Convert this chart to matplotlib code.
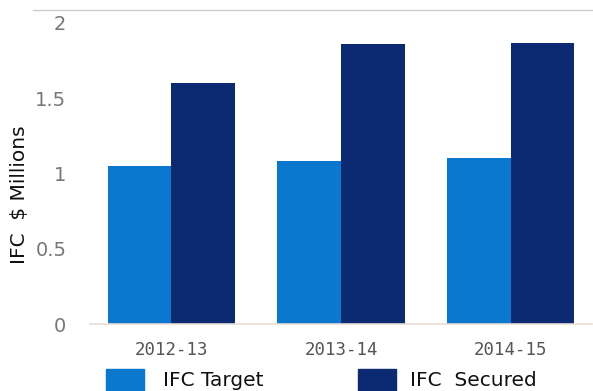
import matplotlib
matplotlib.use("Agg")
import matplotlib.pyplot as plt
from matplotlib.patches import Rectangle
from matplotlib.lines import Line2D
import numpy as np

categories = ["2012-13", "2013-14", "2014-15"]
target = [1.05, 1.08, 1.10]
secured = [1.60, 1.86, 1.87]
yticks = [0, 0.5, 1, 1.5, 2]
ytick_labels = ["0", "0.5", "1", "1.5", "2"]
series_names = ["IFC Target", "IFC  Secured"]
colors = ["#0a78cf", "#0b2a72"]

W, H = 593, 391
fig = plt.figure(figsize=(W / 100, H / 100), dpi=100)
ax = fig.add_axes([90 / W, 1 - 324 / H, (592 - 90) / W, (324 - 10) / H])

x = np.arange(len(categories))
bw = 0.375
ax.bar(x - bw / 2, target, width=bw, color=colors[0], edgecolor="none")
ax.bar(x + bw / 2, secured, width=bw, color=colors[1], edgecolor="none")

ax.set_xlim(-0.48, 2.48)
ax.set_ylim(0, 2.086)
ax.set_yticks(yticks)
ax.set_yticklabels(ytick_labels)
ax.set_xticks(x)
ax.set_xticklabels(categories)
for s in ["top", "right", "left"]:
    ax.spines[s].set_visible(False)
ax.spines["bottom"].set_color("#e8ddd5")
ax.spines["bottom"].set_linewidth(1.2)
ax.tick_params(axis="both", length=0, colors="#777777")
ax.tick_params(axis="y", labelsize=14, pad=17)
ax.tick_params(axis="x", labelsize=12.5, pad=12)
for lbl in ax.get_xticklabels():
    lbl.set_family("DejaVu Sans Mono")
    lbl.set_color("#555555")
ax.set_ylabel("IFC  $ Millions", fontsize=14.5, color="#111111")
ax.yaxis.set_label_coords(-(90 - 29) / (592 - 90), (324 - 195) / (324 - 10))

# top rule
fig.add_artist(Line2D([33 / W, 1], [1 - 10 / H, 1 - 10 / H], color="#cccccc", lw=1))

# legend
fig.add_artist(Rectangle((106 / W, 0), 38 / W, 22 / H, color=colors[0], transform=fig.transFigure))
fig.add_artist(Rectangle((358 / W, 0), 38 / W, 22 / H, color=colors[1], transform=fig.transFigure))
fig.text(163 / W, 1 - 381 / H, series_names[0], fontsize=14.5, color="#111111", va="center")
fig.text(410 / W, 1 - 381 / H, series_names[1], fontsize=14.5, color="#111111", va="center")

fig.savefig("out.png", dpi=100)
